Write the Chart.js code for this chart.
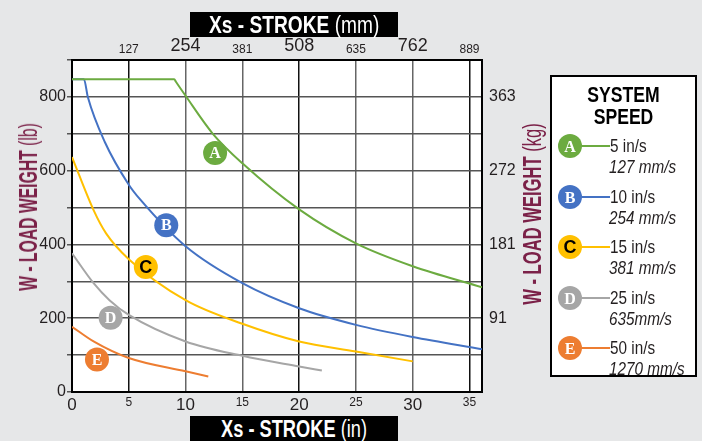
<!DOCTYPE html>
<html>
<head>
<meta charset="utf-8">
<script src="https://cdn.jsdelivr.net/npm/chart.js@4"></script>
<style>
  html, body { margin: 0; padding: 0; }
  body { width: 702px; height: 441px; background: #e6e7e8; position: relative; overflow: hidden;
         font-family: "Liberation Sans", Arial, sans-serif; color: #231f20; }
  #chart { position: absolute; left: 0; top: 0; }
  .tbox { position: absolute; left: 190px; width: 208px; height: 25px; background: #000; color: #fff;
          font-size: 23px; line-height: 26px; text-align: center; white-space: nowrap; }
  .tbox span { display: inline-block; }
  .ytitle { position: absolute; color: #7b2148; font-size: 25px; line-height: 26px; white-space: nowrap; }
  #legend { position: absolute; left: 550px; top: 75px; width: 147px; height: 302px; box-sizing: border-box;
            border: 2px solid #000; background: #fff; }
  #legendTitle { position: absolute; left: 0; top: 7px; width: 100%; text-align: center; font-weight: bold;
                 font-size: 22px; line-height: 22px; color: #000; transform: scaleX(0.8); }
  .dot { position: absolute; width: 24px; height: 24px; border-radius: 50%; text-align: center;
         line-height: 25px; font-size: 16px; font-weight: bold; color: #fff; font-family: "Liberation Serif", serif; }
  .lline { position: absolute; height: 2px; width: 30px; }
  .l1, .l2 { position: absolute; font-size: 18px; line-height: 20px; white-space: nowrap;
             transform: scaleX(0.85); transform-origin: 0 50%; }
  .l2 { font-style: italic; }
</style>
</head>
<body>
<canvas id="chart" width="702" height="441"></canvas>
<div class="tbox" style="top:12px"><span id="tTop"><b>Xs - STROKE</b> (mm)</span></div>
<div class="tbox" style="top:416px"><span id="tBot"><b>Xs - STROKE</b> (in)</span></div>
<div class="ytitle" id="yLeft" style="left:28px; top:207px"><b>W - LOAD WEIGHT</b> (lb)</div>
<div class="ytitle" id="yRight" style="left:532px; top:214px"><b>W - LOAD WEIGHT</b> (kg)</div>
<div id="legend"><div id="legendTitle">SYSTEM<br>SPEED</div></div>
<script>
// stroke (in) and load (lb)
const strokeA = [0, 9, 9.15, 10, 12.4, 15, 20, 25, 30, 36.1];
const loadA = [848, 848, 841, 803, 700, 620, 495, 403, 341, 284];
const strokeB = [0, 1.05, 1.4, 2.9, 5, 6, 10, 15, 20, 25, 30, 36.1];
const loadB = [848, 848, 799, 677, 562, 522, 395, 295, 227, 182, 149, 116];
const strokeC = [0, 1.9, 3, 5, 10, 15, 20, 25, 30];
const loadC = [637, 493, 430, 360, 249, 185, 137, 110, 83];
const strokeD = [0, 1.9, 3.3, 5, 10, 15, 20, 22];
const loadD = [376, 295, 249, 209, 137, 98, 69, 58];
const strokeE = [0, 1.9, 5, 10, 12];
const loadE = [177, 137, 92, 56, 42];

const letters = ["A", "B", "C", "D", "E"];
const labelStroke = [12.6, 8.3, 6.5, 3.4, 2.2];
const labelLoad = [648, 452, 339, 201, 88];
const speedIn = ["5 in/s", "10 in/s", "15 in/s", "25 in/s", "50 in/s"];
const speedMm = ["127 mm/s", "254 mm/s", "381 mm/s", "635mm/s", "1270 mm/s"];
const colors = ["#6cab40", "#4472c4", "#ffc000", "#a6a6a6", "#ed7d31"];

const inchTicks = [5, 10, 15, 20, 25, 30, 35];
const mmTicks = ["127", "254", "381", "508", "635", "762", "889"];
const lbTicks = [200, 400, 600, 800];
const kgTicks = ["91", "181", "272", "363"];

const FONT = "'Liberation Sans', Arial, sans-serif";

function pts(xs, ys) {
  return xs.map((x, i) => ({ x: x, y: ys[i] }));
}

// squeeze html text to the width it has in the picture (condensed face)
function squeeze(id, target, extra) {
  const el = document.getElementById(id);
  const s = target / el.offsetWidth;
  el.style.transform = (extra || "") + " scaleX(" + s.toFixed(3) + ")";
}
squeeze("tTop", 170);
squeeze("tBot", 146);
squeeze("yLeft", 168, "translate(-50%, -50%) rotate(-90deg)");
squeeze("yRight", 182, "translate(-50%, -50%) rotate(-90deg)");

const series = [[strokeA, loadA], [strokeB, loadB], [strokeC, loadC], [strokeD, loadD], [strokeE, loadE]];
const datasets = series.map((s, i) => ({
  label: letters[i],
  data: pts(s[0], s[1]),
  showLine: true,
  borderColor: colors[i],
  borderWidth: 2,
  pointRadius: 0,
  cubicInterpolationMode: "monotone"
}));
datasets.push({
  label: "markers",
  data: pts(labelStroke, labelLoad),
  pointRadius: 12,
  pointHoverRadius: 12,
  backgroundColor: colors,
  borderWidth: 0
});

// legend entries
const legend = document.getElementById("legend");
letters.forEach((l, i) => {
  const cy = 146 + i * 50.5 - 75 - 2;
  const dot = document.createElement("div");
  dot.className = "dot";
  dot.style.left = (570 - 12 - 552) + "px";
  dot.style.top = (cy - 12) + "px";
  dot.style.background = colors[i];
  dot.textContent = l;
  if (l === "C") { dot.style.color = "#000"; dot.style.fontFamily = "'Liberation Sans', sans-serif"; dot.style.fontSize = "18px"; }
  legend.appendChild(dot);
  const line = document.createElement("div");
  line.className = "lline";
  line.style.left = (580 - 552) + "px";
  line.style.top = (cy - 1) + "px";
  line.style.background = colors[i];
  legend.appendChild(line);
  const t1 = document.createElement("div");
  t1.className = "l1";
  t1.style.left = (610 - 552) + "px";
  t1.style.top = (cy - 10) + "px";
  t1.textContent = speedIn[i];
  legend.appendChild(t1);
  const t2 = document.createElement("div");
  t2.className = "l2";
  t2.style.left = (609 - 552) + "px";
  t2.style.top = (cy + 11) + "px";
  t2.textContent = speedMm[i];
  legend.appendChild(t2);
});

const plotBg = {
  id: "plotBg",
  beforeDraw(chart) {
    const a = chart.chartArea;
    chart.ctx.save();
    chart.ctx.fillStyle = "#fff";
    chart.ctx.fillRect(a.left, a.top, a.right - a.left, a.bottom - a.top);
    chart.ctx.restore();
  }
};

const markerLetters = {
  id: "markerLetters",
  afterDatasetsDraw(chart) {
    const ctx = chart.ctx;
    ctx.save();
    ctx.textAlign = "center";
    ctx.textBaseline = "middle";
    letters.forEach((l, i) => {
      const x = chart.scales.x.getPixelForValue(labelStroke[i]);
      const y = chart.scales.y.getPixelForValue(labelLoad[i]);
      if (l === "C") {
        ctx.fillStyle = "#000";
        ctx.font = "bold 18px 'Liberation Sans', sans-serif";
      } else {
        ctx.fillStyle = "#fff";
        ctx.font = "bold 16px 'Liberation Serif', serif";
      }
      ctx.fillText(l, x, y + 1);
    });
    ctx.restore();
  }
};

new Chart(document.getElementById("chart"), {
  type: "scatter",
  data: { datasets: datasets },
  options: {
    responsive: false,
    animation: false,
    layout: { padding: 0 },
    plugins: { legend: { display: false }, tooltip: { enabled: false } },
    scales: {
      x: {
        type: "linear",
        position: "bottom",
        min: 0,
        max: 36.1,
        ticks: {
          stepSize: 5,
          includeBounds: false,
          autoSkip: false,
          maxRotation: 0,
          padding: 3,
          color: "#231f20",
          font: (c) => ({ family: FONT, size: c.tick && c.tick.value % 10 === 0 ? 17 : 12 })
        },
        grid: {
          drawTicks: false,
          lineWidth: 1.5,
          color: (c) => (c.tick && [5, 20, 35].includes(c.tick.value) ? "#111" : "#666")
        },
        border: { color: "#000", width: 2 },
        afterFit: (s) => { s.height = 49; }
      },
      xTop: {
        type: "linear",
        position: "top",
        min: 0,
        max: 36.1,
        ticks: {
          stepSize: 5,
          includeBounds: false,
          autoSkip: false,
          maxRotation: 0,
          padding: 3,
          color: "#231f20",
          callback: (v) => { const i = inchTicks.indexOf(v); return i < 0 ? "" : mmTicks[i]; },
          font: (c) => ({ family: FONT, size: c.tick && c.tick.value % 10 === 0 ? 18 : 12 })
        },
        grid: { display: false, drawTicks: false },
        border: { color: "#000", width: 2 },
        afterFit: (s) => { s.height = 60; }
      },
      y: {
        position: "left",
        min: 0,
        max: 900,
        ticks: {
          stepSize: 100,
          padding: 1,
          color: "#231f20",
          callback: (v) => (v % 200 === 0 ? v : ""),
          font: { family: FONT, size: 16 }
        },
        grid: { color: "#555", lineWidth: 1.5, tickLength: 5 },
        border: { color: "#000", width: 2 },
        afterFit: (s) => { s.width = 72; }
      },
      yKg: {
        position: "right",
        min: 0,
        max: 900,
        ticks: {
          stepSize: 100,
          padding: 7,
          color: "#231f20",
          callback: (v) => { const i = lbTicks.indexOf(v); return i < 0 ? "" : kgTicks[i]; },
          font: { family: FONT, size: 16 }
        },
        grid: { display: false, drawTicks: false },
        border: { color: "#000", width: 2 },
        afterFit: (s) => { s.width = 220; }
      }
    }
  },
  plugins: [plotBg, markerLetters]
});
</script>
</body>
</html>
